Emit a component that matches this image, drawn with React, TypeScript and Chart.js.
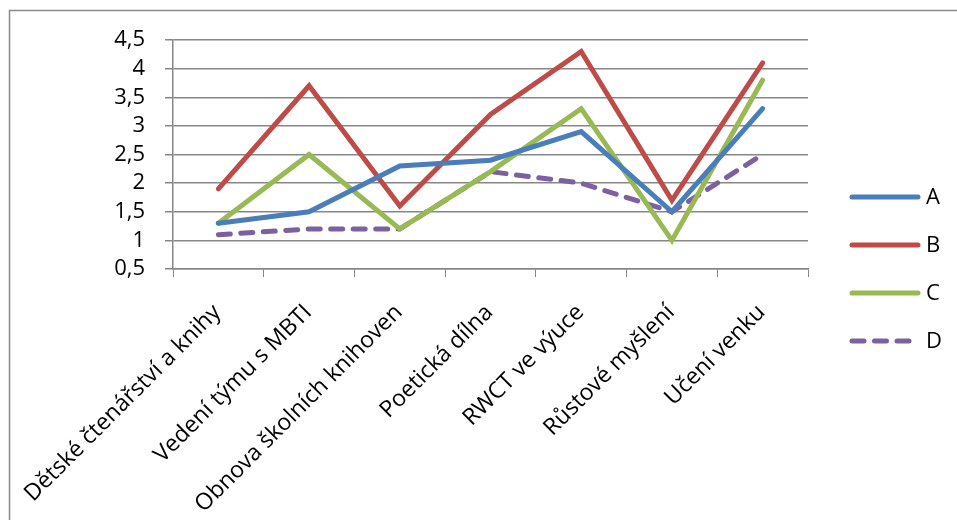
import React, { useEffect, useRef } from "react";
import { Chart, registerables } from "chart.js";

Chart.register(...registerables);

const categories = [
  "Dětské čtenářství a knihy",
  "Vedení týmu s MBTI",
  "Obnova školních knihoven",
  "Poetická dílna",
  "RWCT ve výuce",
  "Růstové myšlení",
  "Učení venku",
];
const seriesNames = ["A", "B", "C", "D"];
const seriesA = [1.3, 1.5, 2.3, 2.4, 2.9, 1.5, 3.3];
const seriesB = [1.9, 3.7, 1.6, 3.2, 4.3, 1.7, 4.1];
const seriesC = [1.3, 2.5, 1.2, 2.2, 3.3, 1.0, 3.8];
const seriesD = [1.1, 1.2, 1.2, 2.2, 2.0, 1.5, 2.5];
const yMin = 0.5;
const yMax = 4.5;
const yStep = 0.5;

const FONT = "'Open Sans', sans-serif";
const FONT_SIZE = 22;
const X_FONT_SIZE = 23;
const GRID = "#878787";

const frameAndLegend = {
  id: "frameAndLegend",
  afterDraw(chart: any) {
    const ctx = chart.ctx;
    ctx.save();
    // outer frame (cropped on right/bottom)
    ctx.strokeStyle = "#8a8a8a";
    ctx.lineWidth = 1.5;
    ctx.beginPath();
    ctx.moveTo(9.5, 520);
    ctx.lineTo(9.5, 10.5);
    ctx.lineTo(957, 10.5);
    ctx.stroke();
    // legend
    const ds = chart.data.datasets;
    ds.forEach((d: any, i: number) => {
      const y = 197 + 48 * i;
      ctx.strokeStyle = d.borderColor;
      ctx.lineWidth = d.borderWidth;
      ctx.lineCap = "round";
      ctx.setLineDash(d.borderDash || []);
      ctx.beginPath();
      ctx.moveTo(852, y);
      ctx.lineTo(918, y);
      ctx.stroke();
      ctx.setLineDash([]);
      ctx.fillStyle = "#000";
      ctx.font = `${FONT_SIZE}px ${FONT}`;
      ctx.textBaseline = "middle";
      ctx.textAlign = "left";
      ctx.fillText(d.label, 926, y + 1);
    });
    ctx.restore();
  },
};

export default function App() {
  const ref = useRef<HTMLCanvasElement>(null);
  useEffect(() => {
    const colors = ["#4A7EBB", "#BE4B48", "#98B954", "#7D60A0"];
    const values = [seriesA, seriesB, seriesC, seriesD];
    const chart = new Chart(ref.current!, {
      type: "line",
      data: {
        labels: categories,
        datasets: values.map((v, i) => ({
          label: seriesNames[i],
          data: v,
          borderColor: colors[i],
          backgroundColor: colors[i],
          borderWidth: 5,
          borderCapStyle: "round",
          borderJoinStyle: "miter",
          borderDash: i === 3 ? [12, 10.5] : [],
          pointRadius: 0,
          pointHoverRadius: 0,
          tension: 0,
          fill: false,
        })),
      },
      options: {
        animation: false,
        responsive: false,
        devicePixelRatio: 1,
        events: [],
        layout: { padding: { left: 10, top: 40, right: 149, bottom: 0 } },
        plugins: {
          legend: { display: false },
          tooltip: { enabled: false },
          title: { display: false },
        },
        scales: {
          x: {
            type: "category",
            offset: true,
            afterFit: (s: any) => {
              s.height = 251;
              s.paddingLeft = 0;
              s.paddingRight = 0;
            },
            grid: {
              display: true,
              drawOnChartArea: false,
              drawTicks: true,
              tickLength: 8,
              color: GRID,
              offset: true,
            },
            border: { display: true, color: GRID, width: 1.5 },
            ticks: {
              autoSkip: false,
              minRotation: 45,
              maxRotation: 45,
              padding: 22,
              labelOffset: -1,
              color: "#000",
              font: { family: FONT, size: X_FONT_SIZE },
            },
          },
          y: {
            min: yMin,
            max: yMax,
            afterFit: (s: any) => {
              s.width = 163;
            },
            grid: {
              color: GRID,
              lineWidth: 1.5,
              drawTicks: true,
              tickLength: 8,
            },
            border: { display: true, color: GRID, width: 1.5 },
            ticks: {
              autoSkip: false,
              stepSize: yStep,
              padding: 20,
              color: "#000",
              font: { family: FONT, size: FONT_SIZE },
              callback: (v: any) => String(v).replace(".", ","),
            },
          },
        },
      },
      plugins: [frameAndLegend],
    });
    return () => chart.destroy();
  }, []);
  return (
    <div style={{ position: "fixed", left: 0, top: 0, width: 957, height: 520, background: "#fff" }}>
      <canvas ref={ref} width={957} height={520} style={{ display: "block" }} />
    </div>
  );
}
